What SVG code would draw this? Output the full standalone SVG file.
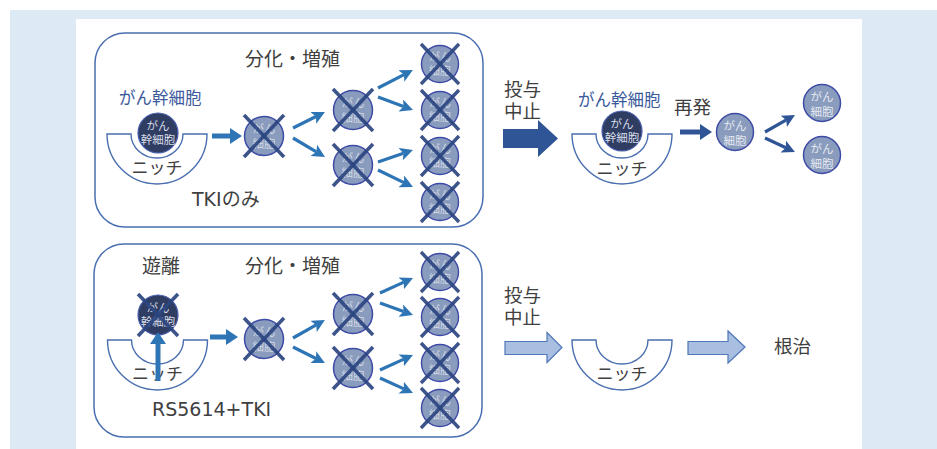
<svg xmlns="http://www.w3.org/2000/svg" xmlns:xlink="http://www.w3.org/1999/xlink" width="937" height="449" viewBox="0 0 937 449">
  <style>
    .jp { font-family: "DejaVu Sans", "Noto Sans CJK JP", sans-serif; fill: #404040; }
    .lbl { font-size: 19px; }
    .stop { font-size: 18.5px; }
    .stem { font-family: "Noto Sans CJK JP", sans-serif; font-size: 16.5px; fill: #3b5a9c; }
    .niche-txt { font-family: "Noto Sans CJK JP", sans-serif; font-size: 17px; fill: #404040; text-anchor: middle; }
    .cell-txt { font-family: "Noto Sans CJK JP", sans-serif; font-size: 11.5px; text-anchor: middle; }
    .box { fill: none; stroke: #4a6fb0; stroke-width: 1.5; }
    .niche { fill: #ffffff; stroke: #4a6fb0; stroke-width: 1.4; }
    .cell { fill: #8a9cbd; stroke: #3d4aa6; stroke-width: 1.5; }
    .dark { fill: #2f3d62; stroke: #4a5fb0; stroke-width: 1.2; }
    .cross { stroke: #2b4580; stroke-width: 3.6; stroke-opacity: 0.92; }
    .thin { fill: none; stroke: #2e75b6; stroke-width: 3.2; marker-end: url(#headThin); }
    .thin-dk { fill: none; stroke: #2f5597; stroke-width: 3.2; marker-end: url(#headThinDk); }
    .thick { fill: none; stroke: #2e75b6; stroke-width: 5; marker-end: url(#headThick); }
    .thick-dk { fill: none; stroke: #2f5597; stroke-width: 5; marker-end: url(#headThickDk); }
    .block-dk { fill: #2f5597; }
    .block-lt { fill: #a9bfe1; stroke: #4f77b9; stroke-width: 1.2; }
  </style>
  <defs>
    <marker id="headThin" markerUnits="userSpaceOnUse" markerWidth="13" markerHeight="13" refX="3" refY="6.5" orient="auto">
      <path d="M0,0 L13,6.5 L0,13 L3,6.5 Z" fill="#2e75b6"/>
    </marker>
    <marker id="headThinDk" markerUnits="userSpaceOnUse" markerWidth="13" markerHeight="13" refX="3" refY="6.5" orient="auto">
      <path d="M0,0 L13,6.5 L0,13 L3,6.5 Z" fill="#2f5597"/>
    </marker>
    <marker id="headThick" markerUnits="userSpaceOnUse" markerWidth="12" markerHeight="16" refX="1" refY="8" orient="auto">
      <path d="M0,0 L12,8 L0,16 Z" fill="#2e75b6"/>
    </marker>
    <marker id="headThickDk" markerUnits="userSpaceOnUse" markerWidth="12" markerHeight="16" refX="1" refY="8" orient="auto">
      <path d="M0,0 L12,8 L0,16 Z" fill="#2f5597"/>
    </marker>
    <!-- niche: U-shaped half ring, origin at top centre -->
    <path id="nicheShape" d="M-50,0 L-26,0 A26,24 0 0 0 26,0 L50,0 A50,50 0 0 1 -50,0 Z"/>
    <!-- crossed-out cancer cell -->
    <g id="xcell">
      <circle class="cell" r="19.5"/>
      <text class="cell-txt" y="-3" fill="#d3d9e6">がん</text>
      <text class="cell-txt" y="11.5" fill="#d3d9e6">細胞</text>
      <line class="cross" x1="-20" y1="-21" x2="20" y2="21"/>
      <line class="cross" x1="20" y1="-21" x2="-20" y2="21"/>
    </g>
    <!-- live cancer cell -->
    <g id="cell">
      <circle class="cell" r="18.5"/>
      <text class="cell-txt" y="-2" fill="#e4e8f0">がん</text>
      <text class="cell-txt" y="12.5" fill="#e4e8f0">細胞</text>
    </g>
    <!-- cancer stem cell -->
    <g id="stemcell">
      <circle class="dark" r="20"/>
      <text class="cell-txt" y="-3" fill="#d6dbe6">がん</text>
      <text class="cell-txt" y="11" fill="#d6dbe6">幹細胞</text>
    </g>
  </defs>

  <!-- page background -->
  <rect x="0" y="0" width="937" height="449" fill="#ffffff"/>
  <rect x="10" y="10" width="927" height="439" fill="#dde9f4"/>
  <rect x="76" y="19" width="786" height="430" fill="#ffffff"/>

  <!-- frames -->
  <rect class="box" x="95" y="33" width="388" height="194" rx="30" ry="30"/>
  <rect class="box" x="94" y="244" width="388" height="193" rx="30" ry="30"/>

  <!-- ===== upper row: TKI only ===== -->
  <text class="jp lbl" x="245" y="66">分化・増殖</text>
  <text class="stem" x="119" y="104">がん幹細胞</text>

  <g id="niche-a" transform="translate(157,134)">
    <use xlink:href="#nicheShape" class="niche"/>
    <text class="niche-txt" y="40">ニッチ</text>
  </g>
  <g id="stem-a" transform="translate(158,133)"><use xlink:href="#stemcell"/></g>
  <text class="jp lbl" x="192" y="206">TKIのみ</text>

  <g id="a-l1" transform="translate(264,136)"><use xlink:href="#xcell"/></g>
  <g id="a-l2a" transform="translate(353,110)"><use xlink:href="#xcell"/></g>
  <g id="a-l2b" transform="translate(353,165)"><use xlink:href="#xcell"/></g>
  <g id="a-l3a" transform="translate(440,64) scale(0.95)"><use xlink:href="#xcell"/></g>
  <g id="a-l3b" transform="translate(440,110) scale(0.95)"><use xlink:href="#xcell"/></g>
  <g id="a-l3c" transform="translate(440,156) scale(0.95)"><use xlink:href="#xcell"/></g>
  <g id="a-l3d" transform="translate(440,202) scale(0.95)"><use xlink:href="#xcell"/></g>

  <!-- stop dosing, relapse -->
  <text class="jp stop" x="504" y="96">投与</text>
  <text class="jp stop" x="504" y="118">中止</text>
  <text class="stem" x="578" y="106">がん幹細胞</text>
  <g id="niche-b" transform="translate(622,134)">
    <use xlink:href="#nicheShape" class="niche"/>
    <text class="niche-txt" y="41">ニッチ</text>
  </g>
  <g id="stem-b" transform="translate(622,131)"><use xlink:href="#stemcell"/></g>
  <text class="jp stop" x="674" y="114">再発</text>
  <g id="b-c1" transform="translate(735,132)"><use xlink:href="#cell"/></g>
  <g id="b-c2" transform="translate(822,103)"><use xlink:href="#cell"/></g>
  <g id="b-c3" transform="translate(822,155)"><use xlink:href="#cell"/></g>

  <!-- ===== lower row: RS5614 + TKI ===== -->
  <text class="jp lbl" x="142" y="273">遊離</text>
  <text class="jp lbl" x="245" y="273">分化・増殖</text>
  <g id="niche-c" transform="translate(157.5,340)">
    <use xlink:href="#nicheShape" class="niche"/>
    <text class="niche-txt" y="40">ニッチ</text>
  </g>
  <g id="stem-c" transform="translate(158,315)">
    <use xlink:href="#stemcell"/>
    <line class="cross" x1="-20" y1="-21" x2="20" y2="21"/>
    <line class="cross" x1="20" y1="-21" x2="-20" y2="21"/>
  </g>
  <text class="jp lbl" x="152" y="416">RS5614+TKI</text>

  <g id="c-l1" transform="translate(264,339)"><use xlink:href="#xcell"/></g>
  <g id="c-l2a" transform="translate(353,314)"><use xlink:href="#xcell"/></g>
  <g id="c-l2b" transform="translate(353,368)"><use xlink:href="#xcell"/></g>
  <g id="c-l3a" transform="translate(440,272) scale(0.95)"><use xlink:href="#xcell"/></g>
  <g id="c-l3b" transform="translate(440,317) scale(0.95)"><use xlink:href="#xcell"/></g>
  <g id="c-l3c" transform="translate(440,363) scale(0.95)"><use xlink:href="#xcell"/></g>
  <g id="c-l3d" transform="translate(440,408) scale(0.95)"><use xlink:href="#xcell"/></g>

  <text class="jp stop" x="504" y="302">投与</text>
  <text class="jp stop" x="504" y="324">中止</text>
  <g id="niche-d" transform="translate(622,340)">
    <use xlink:href="#nicheShape" class="niche"/>
    <text class="niche-txt" y="40">ニッチ</text>
  </g>
  <text class="jp stop" x="774" y="353">根治</text>

  <!-- connectors -->
  <g id="connectors">
    <!-- upper row -->
    <line class="thick" x1="212" y1="136" x2="231" y2="136"/>
    <line class="thin" x1="293" y1="128" x2="316" y2="116.5"/>
    <line class="thin" x1="293" y1="138" x2="316.4" y2="151.9"/>
    <line class="thin" x1="378" y1="88" x2="404" y2="74.6"/>
    <line class="thin" x1="378" y1="97" x2="403.6" y2="106.5"/>
    <line class="thin" x1="378" y1="162" x2="403.5" y2="153.2"/>
    <line class="thin" x1="378" y1="170" x2="404" y2="182.6"/>
    <polygon class="block-dk" points="503,129 538,129 538,120 558,138.5 538,157 538,148 503,148"/>
    <line class="thick-dk" x1="680" y1="132" x2="701" y2="132"/>
    <line class="thin-dk" x1="765" y1="132" x2="786.3" y2="119.9"/>
    <line class="thin-dk" x1="765" y1="138" x2="785.9" y2="147.8"/>
    <!-- lower row -->
    <line class="thick" x1="158" y1="381" x2="158" y2="343"/>
    <line class="thick" x1="210" y1="337" x2="227" y2="337"/>
    <line class="thin" x1="293" y1="338" x2="316.2" y2="324.9"/>
    <line class="thin" x1="293" y1="347" x2="316" y2="358.5"/>
    <line class="thin" x1="380" y1="293" x2="403.9" y2="282.1"/>
    <line class="thin" x1="380" y1="303" x2="403.6" y2="311.6"/>
    <line class="thin" x1="380" y1="370" x2="403.9" y2="359.1"/>
    <line class="thin" x1="380" y1="378" x2="403.9" y2="388.9"/>
    <polygon class="block-lt" points="505,341.5 547,341.5 547,332.5 562,347.5 547,362.5 547,354.5 505,354.5"/>
    <polygon class="block-lt" points="688,341.5 728,341.5 728,331 745,347 728,363 728,354.5 688,354.5"/>
  </g>
</svg>
